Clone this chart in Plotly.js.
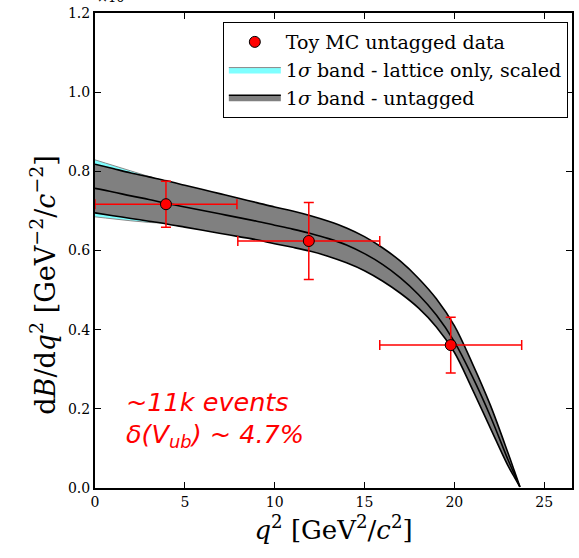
<!DOCTYPE html>
<html>
<head>
<meta charset="utf-8">
<script src="https://cdn.plot.ly/plotly-3.0.1.min.js"></script>
<style>html,body{margin:0;padding:0;background:#fff;}#chart{width:579px;height:558px;}</style>
</head>
<body>
<div id="chart"></div>
<script>
// q^2 grid for the curves
const q2Grid = [0,1,2,3,4,5,6,7,8,9,10,11,12,13,14,15,16,17,18,19,20,21,22,23,23.35,23.65];
// 1 sigma band - untagged (upper, central, lower)
const bandUpper = [.818,.807,.796,.786,.776,.765,.754,.743,.732,.721,.710,.700,.688,.674,.657,.635,.607,.573,.530,.478,.410,.315,.210,.087,.042,.003];
const bandCentral = [.757,.748,.738,.729,.719,.710,.701,.692,.683,.674,.664,.654,.643,.630,.614,.592,.565,.531,.489,.437,.370,.282,.182,.070,.034,.003];
const bandLower = [.695,.688,.681,.674,.667,.659,.651,.643,.635,.627,.617,.608,.598,.585,.569,.549,.523,.492,.455,.407,.343,.250,.152,.055,.027,.003];
// 1 sigma band - lattice only, scaled
const latUpper = [.829,.815,.801,.787,.774,.762,.751,.740,.729,.718,.707,.697,.685,.671,.654,.632,.604,.570,.527,.475,.407,.312,.207,.084,.039,.003];
const latLower = [.685,.680,.675,.671,.668,.662,.654,.646,.638,.630,.620,.611,.601,.588,.572,.552,.526,.495,.458,.410,.346,.253,.155,.058,.029,.003];
// Toy MC untagged data
const dataQ2 = [3.95, 11.9, 19.8];
const dataY = [0.717, 0.624, 0.361];
const dataXErr = [3.95, 3.95, 3.95];
const dataYErr = [0.058, 0.097, 0.0705];
// ticks
const xTicks = [0,5,10,15,20,25];
const yTicks = [0.0,0.2,0.4,0.6,0.8,1.0,1.2];

const serif = "DejaVu Serif, serif";
const sans = "DejaVu Sans, sans-serif";
const spl = 1.0;

const traces = [
  {x: q2Grid, y: latUpper, type: 'scatter', mode: 'lines',
   line: {color: '#8a8a8a', width: 1, shape: 'spline', smoothing: spl},
   showlegend: false, hoverinfo: 'skip'},
  {x: q2Grid, y: latLower, type: 'scatter', mode: 'lines', fill: 'tonexty',
   fillcolor: '#7fffff', line: {color: '#8a8a8a', width: 1, shape: 'spline', smoothing: spl},
   name: '1<i>σ</i> band - lattice only, scaled', legendrank: 2, hoverinfo: 'skip'},
  {x: q2Grid, y: bandUpper, type: 'scatter', mode: 'lines',
   line: {color: '#000000', width: 1.6, shape: 'spline', smoothing: spl},
   showlegend: false, hoverinfo: 'skip'},
  {x: q2Grid, y: bandLower, type: 'scatter', mode: 'lines', fill: 'tonexty',
   fillcolor: '#808080', line: {color: '#000000', width: 1.6, shape: 'spline', smoothing: spl},
   name: '1<i>σ</i> band - untagged', legendrank: 3, hoverinfo: 'skip'},
  {x: q2Grid, y: bandCentral, type: 'scatter', mode: 'lines',
   line: {color: '#000000', width: 1.6, shape: 'spline', smoothing: spl},
   showlegend: false, hoverinfo: 'skip'},
  {x: dataQ2, y: dataY, type: 'scatter', mode: 'markers',
   marker: {color: '#ff0000', size: 11, line: {color: '#000000', width: 1}},
   error_x: {type: 'data', array: dataXErr, visible: true, color: '#ff0000', thickness: 1.5, width: 5},
   error_y: {type: 'data', array: dataYErr, visible: true, color: '#ff0000', thickness: 1.5, width: 5},
   name: 'Toy MC untagged data', legendrank: 1}
];

const axisCommon = {
  showgrid: false, zeroline: false, showline: true, linecolor: '#000', linewidth: 2,
  mirror: 'ticks', ticks: 'inside', ticklen: 6, tickwidth: 1, tickcolor: '#000',
  tickfont: {family: serif, size: 14, color: '#000'}
};

const layout = {
  width: 579, height: 558,
  margin: {l: 95, r: 7, t: 13, b: 70},
  paper_bgcolor: '#fff', plot_bgcolor: '#fff',
  showlegend: true,
  legend: {x: 0.268, y: 0.981, xanchor: 'left', yanchor: 'top',
    bgcolor: '#fff', bordercolor: '#000', borderwidth: 1,
    font: {family: serif, size: 19, color: '#000'}, itemwidth: 52, traceorder: 'normal'},
  xaxis: Object.assign({}, axisCommon, {
    range: [0, 26.55], tickvals: xTicks, ticktext: xTicks.map(String),
    title: {text: '<i>q</i><sup>2</sup> [GeV<sup>2</sup>/<i>c</i><sup>2</sup>]',
            font: {family: serif, size: 26, color: '#000'}, standoff: 12}
  }),
  yaxis: Object.assign({}, axisCommon, {
    range: [0, 1.2], tickvals: yTicks, ticktext: yTicks.map(v => v.toFixed(1))
  }),
  annotations: [
    {xref: 'paper', yref: 'paper', x: -0.11, y: 0.427, xanchor: 'center', yanchor: 'middle',
     textangle: -90, showarrow: false,
     text: 'd<i>B</i>/d<i>q</i><sup>2</sup> [GeV<sup>−2</sup>/<i>c</i><sup>−2</sup>]',
     font: {family: serif, size: 27, color: '#000'}},
    {xref: 'paper', yref: 'paper', x: 0.0, y: 1, xanchor: 'left', yanchor: 'bottom',
     text: '×10<sup>−4</sup>', showarrow: false, yshift: 6,
     font: {family: serif, size: 13, color: '#000'}},
    {xref: 'x', yref: 'y', x: 1.6, y: 0.218, xanchor: 'left', yanchor: 'middle',
     text: '<i>~11k events</i>', showarrow: false,
     font: {family: sans, size: 25.5, color: '#ff0000'}},
    {xref: 'x', yref: 'y', x: 1.6, y: 0.133, xanchor: 'left', yanchor: 'middle',
     text: '<i>δ(V<sub>ub</sub>) ~ 4.7%</i>', showarrow: false,
     font: {family: sans, size: 25.5, color: '#ff0000'}}
  ]
};

Plotly.newPlot('chart', traces, layout, {displayModeBar: false, staticPlot: true});
</script>
</body>
</html>
